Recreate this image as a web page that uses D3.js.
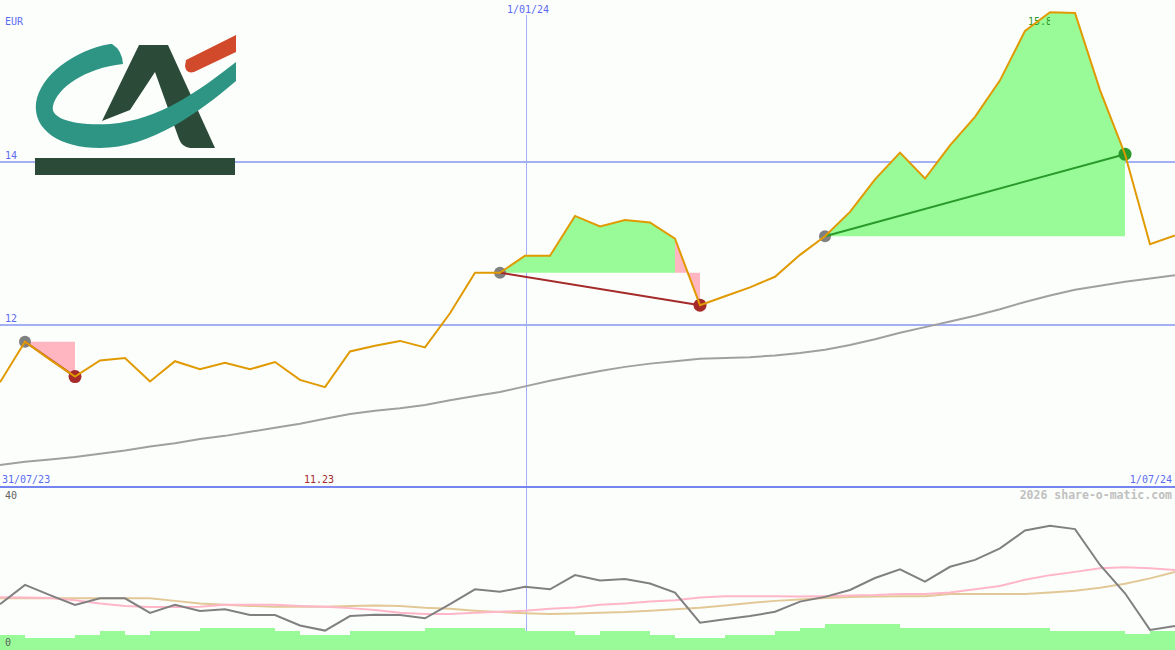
<!DOCTYPE html>
<html>
<head>
<meta charset="utf-8">
<script src="https://cdn.jsdelivr.net/npm/d3@7"></script>
<style>
  body { margin: 0; background: #fcfefc; }
  svg { display: block; }
  text { font-family: "DejaVu Sans Mono", monospace; font-size: 10px; }
</style>
</head>
<body>
<div id="chart"></div>
<script>

// weekly closes, 7 Aug 2023 .. 1 Jul 2024
var start_date = "2023-08-07"

var close = [11.29, 11.79, 11.57, 11.36, 11.56, 11.59, 11.30, 11.55, 11.45, 11.53,
             11.45, 11.54, 11.32, 11.23, 11.67, 11.74, 11.80, 11.72, 12.14, 12.64,
             12.64, 12.85, 12.85, 13.34, 13.21, 13.29, 13.26, 13.06, 12.24, 12.35,
             12.46, 12.59, 12.86, 13.09, 13.39, 13.79, 14.12, 13.80, 14.21, 14.56,
             15.01, 15.62, 15.85, 15.84, 14.89, 14.10, 12.99, 13.10]

var moving_avg = [10.27, 10.31, 10.34, 10.37, 10.41, 10.45, 10.50, 10.54, 10.59, 10.63,
                  10.68, 10.73, 10.78, 10.84, 10.90, 10.94, 10.97, 11.01, 11.07, 11.12,
                  11.17, 11.24, 11.31, 11.37, 11.43, 11.48, 11.52, 11.55, 11.58, 11.59,
                  11.60, 11.62, 11.65, 11.69, 11.75, 11.82, 11.90, 11.97, 12.04, 12.11,
                  12.19, 12.28, 12.36, 12.43, 12.48, 12.53, 12.57, 12.61]

// lower panel
var osc = [12.1, 17.4, 14.6, 11.9, 13.7, 13.7, 9.7, 11.9, 10.2, 10.7,
           9.1, 9.1, 6.2, 4.8, 8.8, 9.2, 9.1, 8.2, 12.1, 16.2,
           15.5, 16.9, 16.2, 20.1, 18.6, 19.0, 17.8, 15.3, 7.0, 7.9,
           8.8, 10.0, 12.8, 14.1, 16.0, 19.3, 21.7, 18.3, 22.4, 24.3,
           27.5, 32.4, 33.7, 32.8, 22.9, 15.1, 5.0, 6.1]

var osc_fast = [14.0, 13.9, 13.8, 13.2, 12.3, 11.6, 11.3, 11.3, 11.4, 11.9,
                11.9, 11.9, 11.6, 11.4, 11.0, 10.5, 9.7, 9.4, 9.4, 9.7,
                10.0, 10.3, 10.8, 11.2, 11.9, 12.3, 12.8, 13.2, 13.9, 14.3,
                14.3, 14.3, 14.2, 14.3, 14.5, 14.6, 14.9, 14.9, 15.3, 16.2,
                17.1, 18.8, 20.1, 21.0, 22.0, 22.3, 22.0, 21.5]

var osc_slow = [13.7, 13.7, 13.7, 13.7, 13.7, 13.7, 13.7, 13.0, 12.3, 11.9,
                11.6, 11.4, 11.4, 11.4, 11.6, 11.7, 11.6, 11.1, 10.8, 10.3,
                9.9, 9.6, 9.4, 9.5, 9.7, 9.9, 10.3, 10.7, 11.1, 11.7,
                12.4, 13.0, 13.4, 13.8, 14.1, 14.2, 14.3, 14.3, 14.9, 14.9,
                14.9, 14.9, 15.3, 15.8, 16.6, 17.7, 19.2, 21.0]

var volume = [3.6, 2.8, 2.8, 3.6, 4.7, 3.6, 4.7, 4.7, 5.6, 5.6,
              5.6, 4.7, 3.6, 3.6, 4.7, 4.7, 4.7, 5.6, 5.6, 5.6,
              5.6, 4.7, 4.7, 3.6, 4.7, 4.7, 3.6, 2.8, 2.8, 3.6,
              3.6, 4.7, 5.6, 6.5, 6.5, 6.5, 5.6, 5.6, 5.6, 5.6,
              5.6, 5.6, 4.7, 4.7, 4.7, 3.8, 4.7]

// trades: index of entry and exit week
var trade_entry = [1, 20, 33]
var trade_exit = [3, 28, 45]

var price_ticks = [12, 14]
var osc_ticks = [0, 40]
var date_grid = ["2024-01-01"]
var date_grid_labels = ["1/01/24"]
var first_label = "31/07/23",
    last_label = "1/07/24"

var width = 1175,
    height = 650

var main_bottom = 487,
    low_bottom = 650

var parse = d3.utcParse("%Y-%m-%d")
var dates = close.map(function(d, i){ return d3.utcWeek.offset(parse(start_date), i) })

var x = d3.scaleUtc()
  .domain([dates[0], dates[dates.length - 1]])
  .range([0, width])

var y = d3.scaleLinear()
  .domain([10, 16])
  .range([main_bottom, 0])

var y2 = d3.scaleLinear()
  .domain([0, 40])
  .range([648, 503])

var blue_text = "#5b6cf2",
    price_col = "#e09a00",
    up_fill = "#98fb98",
    down_fill = "#ffb6c1",
    loss_col = "#a52a2a",
    win_col = "#2a9a2a"

var svg = d3.select("#chart")
  .append("svg")
  .attr("width", width)
  .attr("height", height)

svg.append("rect")
  .attr("width", width)
  .attr("height", height)
  .attr("fill", "#fcfefc")

// GRID

svg.selectAll(".vgrid")
  .data(date_grid)
  .enter()
  .append("line")
  .attr("class", "vgrid")
  .attr("x1", function(d){return x(parse(d)) + 1.5})
  .attr("x2", function(d){return x(parse(d)) + 1.5})
  .attr("y1", 15)
  .attr("y2", low_bottom)
  .attr("stroke", "#a0b0ff")
  .attr("stroke-width", 1)

svg.selectAll(".vgrid_label")
  .data(date_grid)
  .enter()
  .append("text")
  .attr("x", function(d){return x(parse(d)) + 3})
  .attr("y", 13)
  .attr("text-anchor", "middle")
  .attr("fill", blue_text)
  .text(function(d, i){return date_grid_labels[i]})

svg.selectAll(".hgrid")
  .data(price_ticks)
  .enter()
  .append("line")
  .attr("class", "hgrid")
  .attr("x1", 0)
  .attr("x2", width)
  .attr("y1", function(d){return y(d)})
  .attr("y2", function(d){return y(d)})
  .attr("stroke", "#a4b0f4")
  .attr("stroke-width", 2)
  .attr("shape-rendering", "crispEdges")

svg.selectAll(".hgrid_label")
  .data(price_ticks)
  .enter()
  .append("text")
  .attr("x", 5)
  .attr("y", function(d){return y(d) - 3})
  .attr("fill", blue_text)
  .text(function(d){return d})

svg.append("line")
  .attr("x1", 0)
  .attr("x2", width)
  .attr("y1", main_bottom)
  .attr("y2", main_bottom)
  .attr("stroke", "#7484f0")
  .attr("stroke-width", 2)
  .attr("shape-rendering", "crispEdges")

// MOVING AVERAGE

var line = d3.line()
  .x(function(d, i){return x(dates[i])})
  .y(function(d){return y(d)})

svg.append("path")
  .datum(moving_avg)
  .attr("d", line)
  .attr("fill", "none")
  .attr("stroke", "#a0a0a0")
  .attr("stroke-width", 2)

// TRADE FILLS, one piece per week

var segments = []
trade_entry.forEach(function(e, t){
  var level = close[e]
  for (var i = e; i < trade_exit[t]; i++){
    segments.push({i: i, level: level, up: close[i + 1] >= level})
  }
})

var seg_area = d3.area()
  .x(function(d){return x(dates[d.i])})
  .y0(function(d){return y(d.level)})
  .y1(function(d){return y(close[d.i])})

svg.selectAll(".seg")
  .data(segments)
  .enter()
  .append("path")
  .attr("class", "seg")
  .attr("d", function(s){
    return seg_area([{i: s.i, level: s.level}, {i: s.i + 1, level: s.level}])
  })
  .attr("fill", function(s){return s.up ? up_fill : down_fill})

// max / min labels
var i_max = d3.maxIndex(close),
    i_min = d3.minIndex(close)

svg.append("clipPath")
  .attr("id", "max_clip")
  .append("rect")
  .attr("x", 0)
  .attr("y", 0)
  .attr("width", x(dates[i_max]))
  .attr("height", 40)

svg.append("text")
  .attr("x", x(dates[i_max]) - 22)
  .attr("y", 25)
  .attr("fill", win_col)
  .attr("clip-path", "url(#max_clip)")
  .text(d3.format(".2f")(close[i_max]))

svg.append("text")
  .attr("x", x(dates[i_min]) - 21)
  .attr("y", 483)
  .attr("fill", loss_col)
  .text(d3.format(".2f")(close[i_min]))

// trade dots and lines
var trades = trade_entry.map(function(e, t){
  return {entry: e, exit: trade_exit[t], win: close[trade_exit[t]] > close[e]}
})

svg.selectAll(".entry_dot")
  .data(trades)
  .enter()
  .append("circle")
  .attr("cx", function(d){return x(dates[d.entry])})
  .attr("cy", function(d){return y(close[d.entry])})
  .attr("r", 6)
  .attr("fill", "#808080")

svg.selectAll(".exit_dot")
  .data(trades)
  .enter()
  .append("circle")
  .attr("cx", function(d){return x(dates[d.exit])})
  .attr("cy", function(d){return y(close[d.exit])})
  .attr("r", 6.5)
  .attr("fill", function(d){return d.win ? win_col : loss_col})

svg.selectAll(".trade_line")
  .data(trades)
  .enter()
  .append("line")
  .attr("x1", function(d){return x(dates[d.entry])})
  .attr("y1", function(d){return y(close[d.entry])})
  .attr("x2", function(d){return x(dates[d.exit])})
  .attr("y2", function(d){return y(close[d.exit])})
  .attr("stroke", function(d){return d.win ? win_col : loss_col})
  .attr("stroke-width", 2)

// PRICE

svg.append("path")
  .datum(close)
  .attr("d", line)
  .attr("fill", "none")
  .attr("stroke", price_col)
  .attr("stroke-width", 2)

// text round the main panel
svg.append("text").attr("x", 5).attr("y", 25).attr("fill", blue_text).text("EUR")
svg.append("text").attr("x", 2).attr("y", 483).attr("fill", blue_text).text(first_label)
svg.append("text").attr("x", width - 3).attr("y", 483).attr("text-anchor", "end")
  .attr("fill", blue_text).text(last_label)

// LOGO
var logo = svg.append("g")
logo.append("path")
  .attr("d", "M102,121 L139,45 L168,45 L215,148 L190,148 Q182,147 179,139 L155,72 L130,110 Z")
  .attr("fill", "#2b4a37")
logo.append("path")
  .attr("d", "M186,60 L236,35 L236,52 L194,72 Q186,74 185,66 Z")
  .attr("fill", "#d24a2c")
logo.append("path")
  .attr("d", "M110,44 C75,50 40,75 36,103 C33,130 60,148 100,148 C150,148 200,112 236,81 L236,62 C200,90 160,120 110,124 C72,126 50,118 53,106 C57,88 85,68 123,64 Q122,50 112,44 Z")
  .attr("fill", "#2e9585")
logo.append("rect")
  .attr("x", 35).attr("y", 158).attr("width", 200).attr("height", 17)
  .attr("fill", "#2b4a37")

// LOWER PANEL

svg.selectAll(".vol")
  .data(volume)
  .enter()
  .append("rect")
  .attr("class", "vol")
  .attr("x", function(d, i){return x(dates[i])})
  .attr("width", function(d, i){return x(dates[i + 1]) - x(dates[i])})
  .attr("y", function(d){return y2(d)})
  .attr("height", function(d){return low_bottom - y2(d)})
  .attr("fill", up_fill)
  .attr("shape-rendering", "crispEdges")

var line2 = d3.line()
  .x(function(d, i){return x(dates[i])})
  .y(function(d){return y2(d)})

svg.append("path").datum(osc_slow).attr("d", line2)
  .attr("fill", "none").attr("stroke", "#e2c896").attr("stroke-width", 2)
svg.append("path").datum(osc_fast).attr("d", line2)
  .attr("fill", "none").attr("stroke", "#ffb6c8").attr("stroke-width", 2)
svg.append("path").datum(osc).attr("d", line2)
  .attr("fill", "none").attr("stroke", "#808080").attr("stroke-width", 2)

svg.selectAll(".osc_label")
  .data(osc_ticks)
  .enter()
  .append("text")
  .attr("x", 5)
  .attr("y", function(d){return d == 0 ? 646 : 499})
  .attr("fill", "#606060")
  .text(function(d){return d})

svg.append("text")
  .attr("x", width - 3)
  .attr("y", 499)
  .attr("text-anchor", "end")
  .attr("fill", "#c0c0c0")
  .style("font-size", "11.5px")
  .style("font-weight", "bold")
  .text("2026 share-o-matic.com")

</script>
</body>
</html>
